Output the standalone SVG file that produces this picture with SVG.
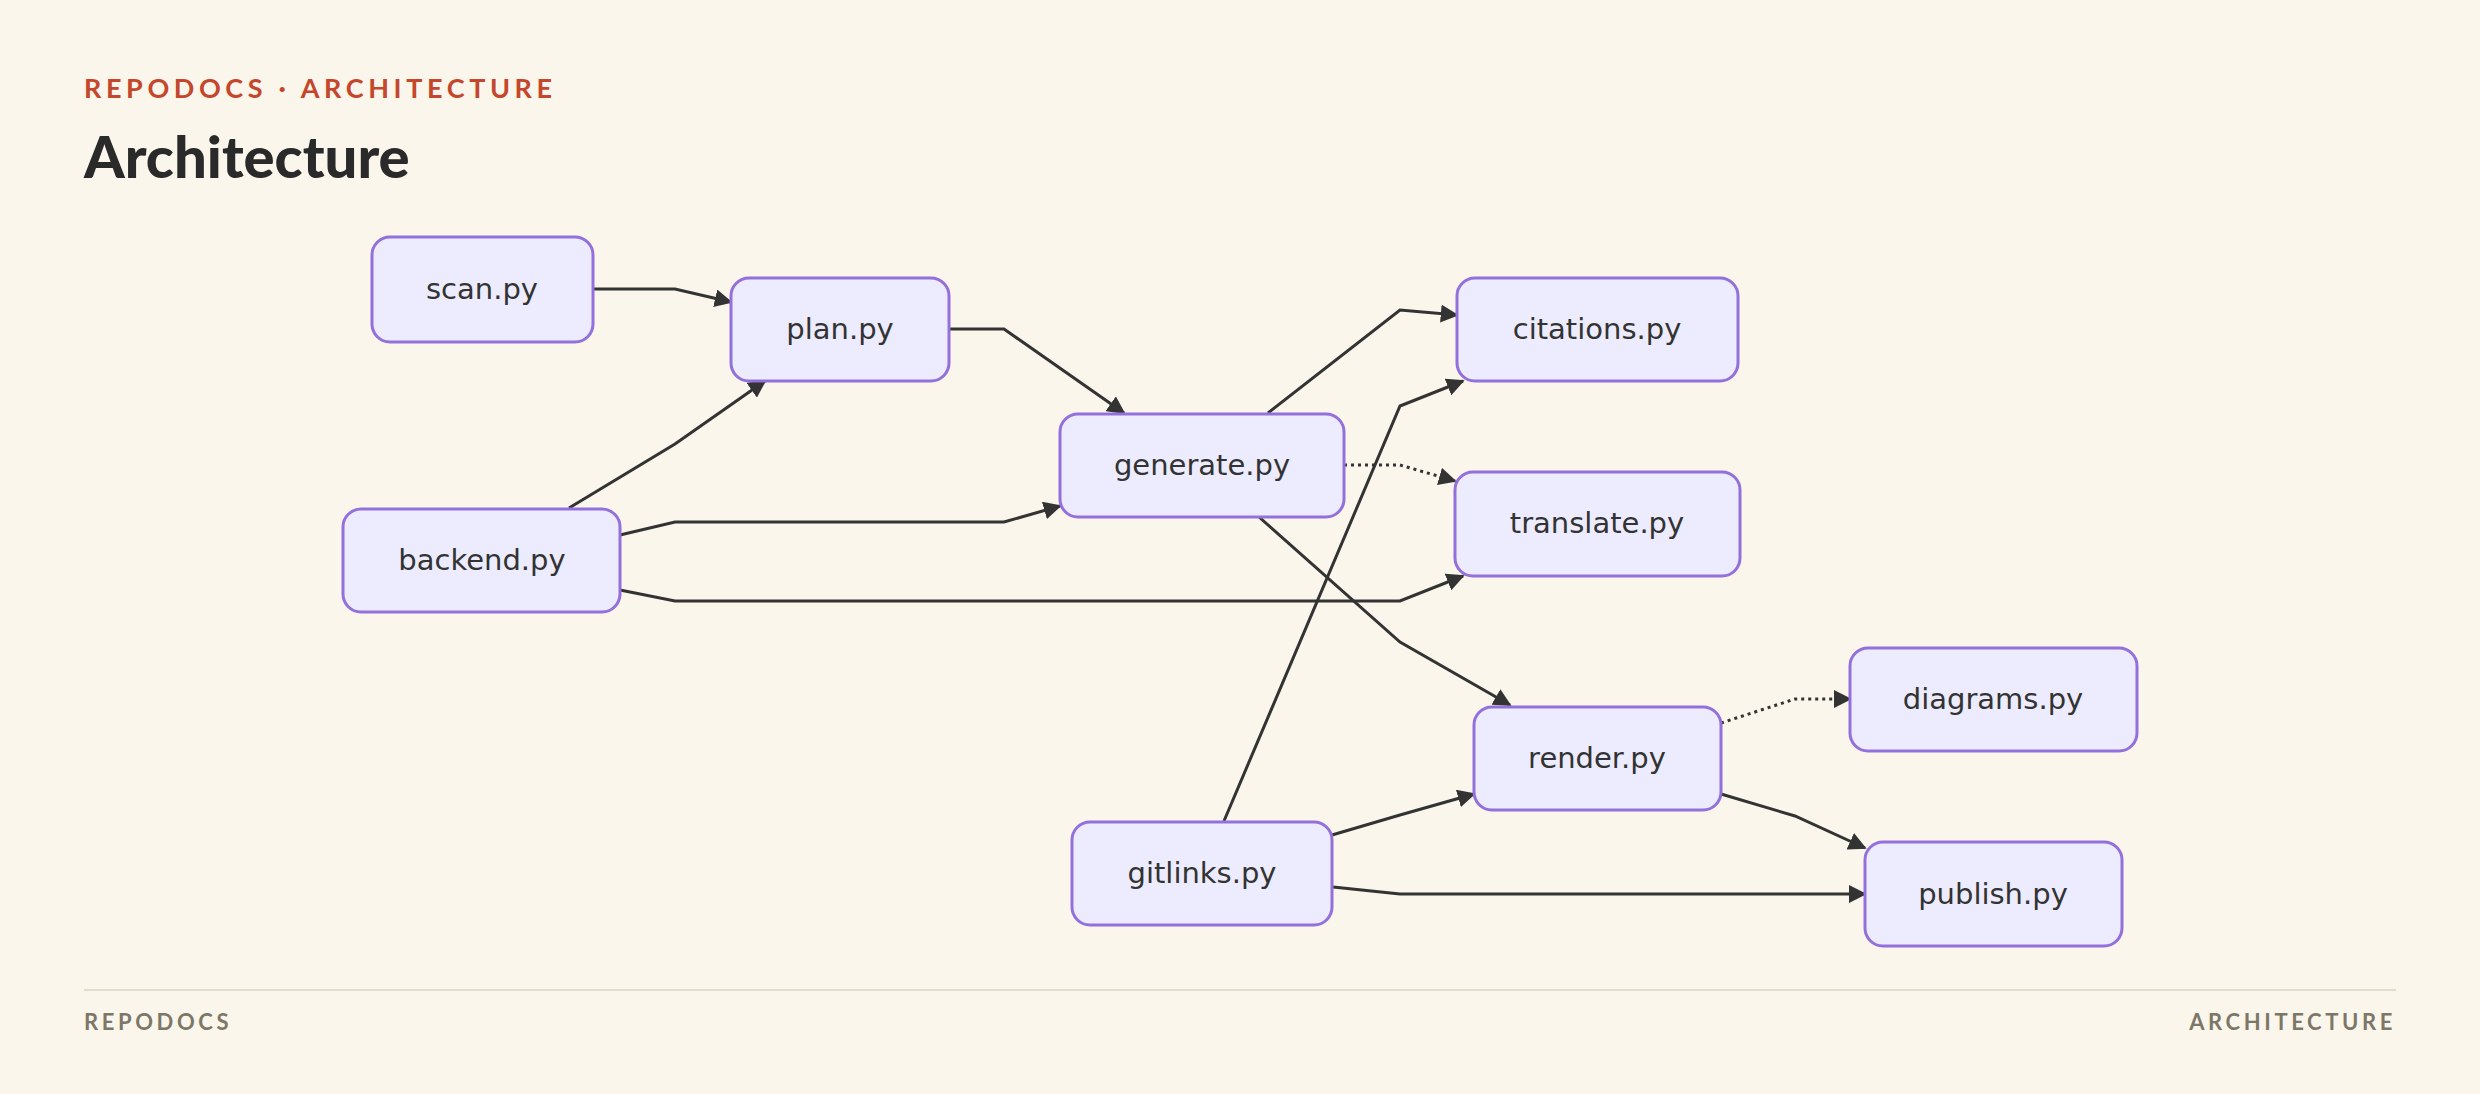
<svg xmlns="http://www.w3.org/2000/svg" width="2480" height="1094" viewBox="0 0 2480 1094">
<style>
.n rect{fill:#ececfe;stroke:#9370db;stroke-width:3}
.n text{font-family:"DejaVu Sans",sans-serif;font-size:29px;fill:#333;text-anchor:middle;dominant-baseline:central}
.e path{fill:none;stroke:#333;stroke-width:3}
.e .d{stroke-dasharray:3 4}
</style>
<defs><marker id="a" viewBox="0 0 10 10" refX="9" refY="5" markerWidth="6" markerHeight="6" orient="auto" markerUnits="strokeWidth"><path d="M0,0L10,5L0,10z" fill="#333"/></marker></defs>
<rect width="2480" height="1094" fill="#faf6eb"/>
<text x="84" y="98" font-family="Lato,sans-serif" font-weight="bold" font-size="27" letter-spacing="4.6" fill="#c4472b">REPODOCS · ARCHITECTURE</text>
<text x="84" y="178" font-family="Lato,sans-serif" font-weight="900" font-size="58" fill="#2a2a2a">Architecture</text>
<line x1="84" y1="990" x2="2396" y2="990" stroke="#e2dccd" stroke-width="2"/>
<text x="84" y="1030" font-family="Lato,sans-serif" font-weight="bold" font-size="22" letter-spacing="3.6" fill="#7d7768">REPODOCS</text>
<text x="2396" y="1030" text-anchor="end" font-family="Lato,sans-serif" font-weight="bold" font-size="22" letter-spacing="3.6" fill="#7d7768">ARCHITECTURE</text>
<g class="e" marker-end="url(#a)">
<path d="M593,289L675,289L731,302"/>
<path d="M949,329L1004,329L1124,413"/>
<path d="M569,508L675,444L765,381"/>
<path d="M620,535L675,522L1004,522L1060,506"/>
<path d="M620,590L675,601L1400,601L1463,576"/>
<path d="M1268,413L1400,310L1457,315"/>
<path class="d" d="M1344,465L1400,465L1455,481"/>
<path d="M1259,517L1400,642L1510,705"/>
<path d="M1224,821L1400,406L1463,381"/>
<path d="M1332,835L1400,815L1474,794"/>
<path d="M1333,887L1400,894L1865,894"/>
<path class="d" d="M1721,723L1795,699L1850,699"/>
<path d="M1721,794L1795,816L1865,848"/>
</g>
<g id="scan" class="n"><rect x="372" y="237" width="221" height="105" rx="18"/><text x="482" y="289">scan.py</text></g>
<g id="plan" class="n"><rect x="731" y="278" width="218" height="103" rx="18"/><text x="840" y="329">plan.py</text></g>
<g id="backend" class="n"><rect x="343" y="509" width="277" height="103" rx="18"/><text x="482" y="560">backend.py</text></g>
<g id="generate" class="n"><rect x="1060" y="414" width="284" height="103" rx="18"/><text x="1202" y="465">generate.py</text></g>
<g id="citations" class="n"><rect x="1457" y="278" width="281" height="103" rx="18"/><text x="1597" y="329">citations.py</text></g>
<g id="translate" class="n"><rect x="1455" y="472" width="285" height="104" rx="18"/><text x="1597" y="523">translate.py</text></g>
<g id="render" class="n"><rect x="1474" y="707" width="247" height="103" rx="18"/><text x="1597" y="758">render.py</text></g>
<g id="diagrams" class="n"><rect x="1850" y="648" width="287" height="103" rx="18"/><text x="1993" y="699">diagrams.py</text></g>
<g id="gitlinks" class="n"><rect x="1072" y="822" width="260" height="103" rx="18"/><text x="1202" y="873">gitlinks.py</text></g>
<g id="publish" class="n"><rect x="1865" y="842" width="257" height="104" rx="18"/><text x="1993" y="894">publish.py</text></g>
</svg>
